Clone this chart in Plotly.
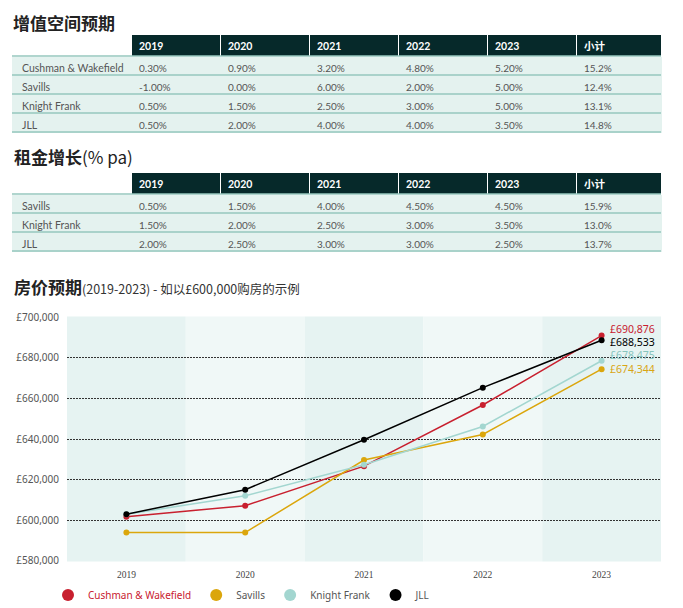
import plotly.graph_objects as go

W, H = 683, 608
OFF = 8            # page body margin

years = [2019, 2020, 2021, 2022, 2023]
col_heads = ["2019", "2020", "2021", "2022", "2023", "小计"]

# 增值空间预期
cap_agents = ["Cushman & Wakefield", "Savills", "Knight Frank", "JLL"]
cap_cw = ["0.30%", "0.90%", "3.20%", "4.80%", "5.20%", "15.2%"]
cap_sav = ["-1.00%", "0.00%", "6.00%", "2.00%", "5.00%", "12.4%"]
cap_kf = ["0.50%", "1.50%", "2.50%", "3.00%", "5.00%", "13.1%"]
cap_jll = ["0.50%", "2.00%", "4.00%", "4.00%", "3.50%", "14.8%"]

# 租金增长(% pa)
rent_agents = ["Savills", "Knight Frank", "JLL"]
rent_sav = ["0.50%", "1.50%", "4.00%", "4.50%", "4.50%", "15.9%"]
rent_kf = ["1.50%", "2.00%", "2.50%", "3.00%", "3.50%", "13.0%"]
rent_jll = ["2.00%", "2.50%", "3.00%", "3.00%", "2.50%", "13.7%"]

# 房价预期 (£600,000 起)
cw_price = [601800, 607216, 626647, 656726, 690876]
sav_price = [594000, 594000, 629640, 642233, 674344]
kf_price = [603000, 612045, 627346, 646166, 678475]
jll_price = [603000, 615060, 639662, 665249, 688533]

DARK = "#06292a"
ROW = "#e4f2ef"
ROWLINE = "#96c7be"
TXT = "#555555"
TFONT = "Lato, Noto Sans CJK SC"

def py(p):
    return 1 - (p - OFF) / H

def px(p):
    return (p - OFF) / W

fig = go.Figure()

def add_table(agents, rows, top):
    n = len(agents)
    # first column left blank: a "&" in a cell makes plotly treat it as markup
    # and inflate the row, so the agent names go on as annotations instead
    cols = [[""] * n] + [[r[i] for r in rows] for i in range(len(col_heads))]
    fig.add_trace(go.Table(
        domain=dict(x=[px(12), px(661)], y=[py(top + 22 + 19 * n + 4), py(top)]),
        columnwidth=[119, 89, 89, 89, 89, 89, 85],
        header=dict(values=[""] + col_heads, height=22, align="left",
                    fill_color=["white"] + [DARK] * 6,
                    line=dict(color="white", width=1),
                    font=dict(family=TFONT, size=10.5, color="white", weight="bold")),
        cells=dict(values=cols, height=19, align="left",
                   fill_color=ROW, line=dict(color=ROW, width=1),
                   font=dict(family=TFONT, size=10, color=TXT)),
    ))
    for k, name in enumerate(agents):
        fig.add_annotation(x=px(20), y=py(top + 22 + 19 * k + 12.5), xref="paper", yref="paper",
                           xanchor="left", yanchor="middle", showarrow=False, text=name,
                           font=dict(family=TFONT, size=10.5, color=TXT))
    for k in range(n + 1):
        y = top + 22 + 19 * k
        fig.add_shape(type="line", xref="paper", yref="paper", layer="above",
                      x0=px(12), x1=px(661), y0=py(y), y1=py(y),
                      line=dict(color=ROWLINE, width=1.3))

add_table(cap_agents, [cap_cw, cap_sav, cap_kf, cap_jll], 34)
add_table(rent_agents, [rent_sav, rent_kf, rent_jll], 172)

series = [
    ("Cushman & Wakefield", cw_price, "#c8202f"),
    ("Savills", sav_price, "#dba60c"),
    ("Knight Frank", kf_price, "#a3d6d0"),
    ("JLL", jll_price, "#000000"),
]

for name, vals, color in series:
    fig.add_trace(go.Scatter(x=years, y=vals, mode="lines+markers", showlegend=False,
                             line=dict(color=color, width=1.5),
                             marker=dict(color=color, size=6)))

for name, vals, color in series:
    shown = name
    if name == "Cushman & Wakefield":
        shown = "<span style='color:#c8202f'>" + name + "</span>"
    fig.add_trace(go.Scatter(x=[None], y=[None], mode="markers", name=shown,
                             marker=dict(color=color, size=12)))

# end-of-line value labels
ends = [(cw_price[-1], "#c8202f", 6.5), (jll_price[-1], "#000000", -2),
        (kf_price[-1], "#86c4bd", 5.5), (sav_price[-1], "#d9a514", 0)]
for v, c, ys in ends:
    fig.add_annotation(x=years[-1], y=v, xref="x", yref="y", text="£{:,}".format(v),
                       showarrow=False, xanchor="left", xshift=6, yshift=ys,
                       font=dict(family="Noto Sans", size=10.5, color=c))

# alternating column bands
for i, yr in enumerate(years):
    fig.add_shape(type="rect", xref="x", yref="y domain", layer="below",
                  x0=yr - 0.5, x1=yr + 0.5, y0=0, y1=1,
                  fillcolor="#e6f3f2" if i % 2 == 0 else "#f0f8f7", line=dict(width=0))

# titles
fig.add_annotation(x=px(12), y=py(8.5), xref="paper", yref="paper", xanchor="left", yanchor="top",
                   showarrow=False, text="<b>增值空间预期</b>", borderpad=0,
                   font=dict(family="Noto Sans CJK SC", size=17, color="#222"))
fig.add_annotation(x=px(12), y=py(157), xref="paper", yref="paper", xanchor="left", yanchor="middle",
                   showarrow=False, text="<b>租金增长</b>(% pa)",
                   font=dict(family="Noto Sans CJK SC", size=17, color="#222"))
fig.add_annotation(x=px(12), y=py(287), xref="paper", yref="paper", xanchor="left", yanchor="middle",
                   showarrow=False,
                   text="<b>房价预期</b><span style='font-size:12.5px;color:#333'>(2019-2023) - 如以£600,000购房的示例</span>",
                   font=dict(family="Noto Sans CJK SC", size=17, color="#222"))

fig.update_layout(
    width=W, height=H,
    margin=dict(l=0, r=0, t=0, b=0),
    paper_bgcolor="white", plot_bgcolor="white",
    xaxis=dict(domain=[px(67), px(661)], range=[2018.5, 2023.5], tickvals=years,
               showgrid=False, zeroline=False, showline=False, automargin=False,
               ticks="outside", ticklen=4, tickcolor="rgba(0,0,0,0)",
               tickfont=dict(family="Liberation Serif", size=9.5, color="#444")),
    yaxis=dict(domain=[py(561.6), py(316.4)], range=[579700, 700300],
               tickmode="linear", tick0=580000, dtick=20000,
               tickprefix="£", tickformat=",", zeroline=False, showline=False, automargin=False,
               gridcolor="#333", griddash="2px,1px", gridwidth=1,
               ticks="outside", ticklen=5, tickcolor="rgba(0,0,0,0)",
               tickfont=dict(family="Noto Sans", size=10, color="#555")),
    legend=dict(orientation="h", x=px(48), y=py(595), xanchor="left", yanchor="middle",
                font=dict(family="Noto Sans", size=10, color="#555"),
                bgcolor="rgba(0,0,0,0)", itemclick=False),
)

fig.write_html("out.html")
